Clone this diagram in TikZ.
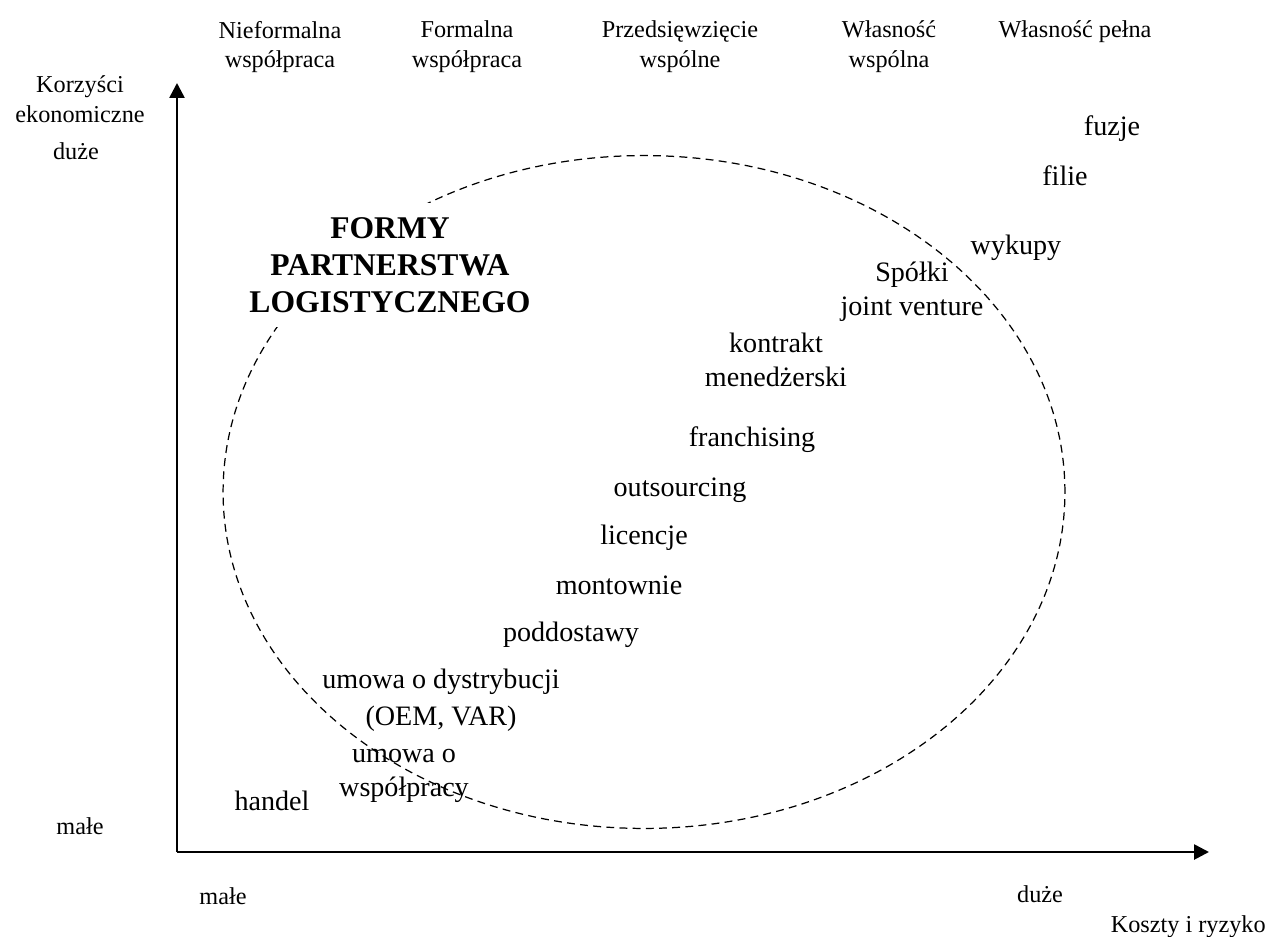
\documentclass[tikz,border=0pt]{standalone}
\usepackage{fontspec}
\setmainfont{Liberation Serif}
\usetikzlibrary{positioning}
\usetikzlibrary{arrows.meta}
\tikzset {
  x=0.02cm, y=-0.02cm,
  % the two axes of the chart
  axis/.style={line width=1.5pt, -{Triangle[length=8.5pt, width=8.5pt]}},
  % labels above the chart and along the axes
  toplabel/.style={font=\fontsize{13.8}{17}\selectfont, align=center, inner sep=0pt},
  axislabel/.style={font=\fontsize{13.8}{17}\selectfont, align=center, inner sep=0pt},
  % forms of partnership inside the chart
  form/.style={font=\fontsize{16}{19.2}\selectfont, align=center, inner sep=0pt},
  heading/.style={font=\fontsize{18}{21}\selectfont\bfseries, align=center, fill=white,
    inner xsep=3pt, inner ysep=8pt},
  area/.style={dashed, line width=0.7pt, dash pattern=on 4.5pt off 3pt},
}
\begin{document}
\begin{tikzpicture}
  \useasboundingbox (0,0) rectangle (1270,936);

  % axes
  \coordinate (origin) at (177,852);
  \coordinate (ytip) at (177,83);
  \coordinate (xtip) at (1209,852);
  \draw [axis] (origin) -- (ytip);
  \draw [axis] (origin) -- (xtip);

  % area of logistic partnership
  \draw [area] (644,492) ellipse [x radius=8.42cm, y radius=6.73cm];
  \node [heading] (title) at (390,265) {FORMY\\PARTNERSTWA\\LOGISTYCZNEGO};

  % top labels
  \node [toplabel] (nieform) at (280,47) {Nieformalna\\współpraca};
  \node [toplabel] (form) at (467,47) {Formalna\\współpraca};
  \node [toplabel] (przeds) at (680,47) {Przedsięwzięcie\\wspólne};
  \node [toplabel] (wlwsp) at (889,47) {Własność\\wspólna};
  \node [toplabel] (wlpel) at (1075,32) {Własność pełna};

  % axis labels
  \node [axislabel] (ylabel) at (80,99) {Korzyści\\ekonomiczne};
  \node [axislabel] (ybig) at (76,151) {duże};
  \node [axislabel] (ysmall) at (80,826) {małe};
  \node [axislabel] (xsmall) at (223,896) {małe};
  \node [axislabel] (xbig) at (1040,894) {duże};
  \node [axislabel, anchor=east] (xlabel) at (1266,927) {Koszty i ryzyko};

  % forms of partnership
  \node [form] (fuzje) at (1112,129) {fuzje};
  \node [form] (filie) at (1065,176) {filie};
  \node [form] (wykupy) at (1016,248) {wykupy};
  \node [form] (spolki) at (912,292) {Spółki\\joint venture};
  \node [form] (kontrakt) at (776,360) {kontrakt\\menedżerski};
  \node [form] (franch) at (752,440) {franchising};
  \node [form] (outs) at (680,490) {outsourcing};
  \node [form] (lic) at (644,538) {licencje};
  \node [form] (mont) at (619,585) {montownie};
  \node [form] (podd) at (571,635) {poddostawy};
  \node [form] (dystr) at (441,700) {umowa o dystrybucji\\[2pt](OEM, VAR)};
  \node [form] (wspol) at (404,776) {umowa o\\współpracy};
  \node [form] (handel) at (272,801) {handel};
\end{tikzpicture}
\end{document}
